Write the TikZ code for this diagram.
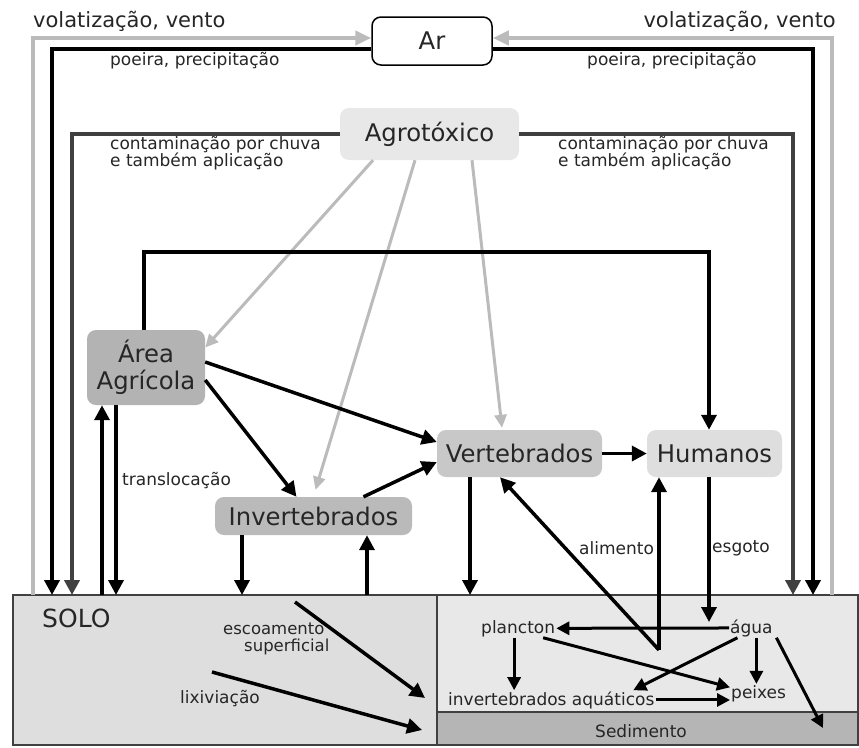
\documentclass[tikz,border=0pt]{standalone}
\usepackage{fontspec}
\setmainfont{DejaVu Sans}
\usetikzlibrary{arrows.meta}
\definecolor{lgray}{HTML}{BBBBBB}
\definecolor{dgray}{HTML}{404040}
\definecolor{txt}{HTML}{262626}
\definecolor{soilc}{HTML}{DEDEDE}
\definecolor{waterc}{HTML}{E8E8E8}
\definecolor{sedc}{HTML}{B5B5B5}
\definecolor{agroc}{HTML}{E8E8E8}
\definecolor{areac}{HTML}{B3B3B3}
\definecolor{invc}{HTML}{BABABA}
\definecolor{vertc}{HTML}{C8C8C8}
\definecolor{humc}{HTML}{DEDEDE}
\begin{document}
\begin{tikzpicture}[x=1pt,y=-1pt,
  box/.style={rounded corners=9pt, inner sep=0pt, text=txt, font=\fontsize{24.3}{27}\selectfont, align=center},
  lbl/.style={inner sep=0pt, anchor=base west, text=txt, font=\fontsize{17}{18}\selectfont},
  wtxt/.style={inner sep=1pt, anchor=base west, text=txt, font=\fontsize{17}{18}\selectfont},
  blk/.style={draw=black, line width=3.5pt, -{Triangle[length=15pt,width=15pt]}},
  warr/.style={draw=black, line width=3pt, -{Triangle[length=13pt,width=13pt]}},
  topblk/.style={draw=black, line width=4pt, -{Triangle[length=15pt,width=15pt]}},
  topgray/.style={draw=lgray, line width=4pt, -{Triangle[length=16pt,width=14pt]}},
  darkline/.style={draw=dgray, line width=4pt, -{Triangle[length=15pt,width=15pt]}},
  agroarr/.style={draw=lgray, line width=3pt, -{Triangle[length=13pt,width=12pt]}}
]
\useasboundingbox (0,0) rectangle (859,747);
\fill[white] (0,0) rectangle (859,747);

% compartments
\fill[soilc] (13,595) rectangle (437,745);
\fill[waterc] (437,595) rectangle (858,712);
\fill[sedc] (437,712) rectangle (858,745);
\draw[dgray, line width=1.5pt] (13,595) rectangle (858,745);
\draw[dgray, line width=1.5pt] (437,595) -- (437,745);
\draw[dgray, line width=1.5pt] (437,712) -- (858,712);

% main nodes
\node[box, fill=white, draw=black, line width=1.5pt, minimum width=120pt, minimum height=48pt] (ar) at (432,41) {Ar};
\node[box, fill=agroc, minimum width=179pt, minimum height=52pt] (agro) at (429.5,134) {Agrotóxico};
\node[box, fill=areac, minimum width=118pt, minimum height=75pt] (area) at (146,367.5) {Área\\Agrícola};
\node[box, fill=invc, minimum width=197pt, minimum height=38pt] (inv) at (313.5,516) {Invertebrados};
\node[box, fill=vertc, minimum width=165pt, minimum height=47pt] (vert) at (519.5,453.5) {Vertebrados};
\node[box, fill=humc, minimum width=135pt, minimum height=47pt] (hum) at (714.5,453.5) {Humanos};

% compartment texts
\node[lbl, font=\fontsize{25}{28}\selectfont] (solo) at (42,627) {SOLO};
\node[wtxt] (plancton) at (480,633) {plancton};
\node[wtxt] (agua) at (729,633) {água};
\node[wtxt] (invaq) at (447,705) {invertebrados aquáticos};
\node[wtxt] (peixes) at (730,698) {peixes};
\node[lbl] (sedim) at (595,737) {Sedimento};

% free ends
\coordinate (s1) at (33,595);
\coordinate (s2) at (52,595);
\coordinate (s3) at (72,595);
\coordinate (s4) at (102,595);
\coordinate (s5) at (116,595);
\coordinate (s6) at (242,595);
\coordinate (s7) at (367,595);
\coordinate (s8) at (470,595);
\coordinate (r3) at (793,595);
\coordinate (r2) at (813,595);
\coordinate (r1) at (832,595);
\coordinate (top2) at (709,252);
\coordinate (esc1) at (295,602);
\coordinate (esc2) at (425,698);
\coordinate (lix1) at (212,672);
\coordinate (lix2) at (422,730);
\coordinate (esg) at (709,622);
\coordinate (food) at (659,650);
\coordinate (sed) at (823,728);

% air loops
\draw[topgray] (s1) |- ([yshift=3pt]ar.west);
\draw[topgray] (r1) |- ([yshift=3pt]ar.east);
\draw[topblk] ([yshift=-8pt]ar.west) -| (s2);
\draw[topblk] ([yshift=-8pt]ar.east) -| (r2);
\draw[darkline] (agro.west) -| (s3);
\draw[darkline] (agro.east) -| (r3);

% pesticide arrows
\draw[agroarr] ([xshift=-56.5pt]agro.south) -- ([yshift=20pt]area.east);
\draw[agroarr] ([xshift=-14.5pt]agro.south) -- ([xshift=2pt,yshift=7pt]inv.north);
\draw[agroarr] ([xshift=42.5pt]agro.south) -- ([xshift=-17.5pt,yshift=2pt]vert.north);

% black arrows
\draw[blk] ([xshift=-2pt]area.north) |- (top2) -- ([xshift=-5.5pt]hum.north);
\draw[blk] (s4) -- ([xshift=-44pt]area.south);
\draw[blk] ([xshift=-30pt]area.south) -- (s5);
\draw[blk] ([xshift=-71.5pt]inv.south) -- (s6);
\draw[blk] (s7) -- ([xshift=53.5pt]inv.south);
\draw[blk] ([yshift=5.5pt]area.east) -- ([yshift=11.5pt]vert.west);
\draw[blk] ([yshift=-12.5pt]area.east) -- ([xshift=-17pt]inv.north);
\draw[blk] ([xshift=50pt]inv.north) -- ([yshift=-8.5pt]vert.west);
\draw[blk] (vert.east) -- (hum.west);
\draw[blk] ([xshift=-49.5pt]vert.south) -- (s8);
\draw[blk] ([xshift=-5.5pt]hum.south) -- (esg);
\draw[blk] (food) -- ([xshift=-19.5pt]vert.south);
\draw[blk] (food) -- (food |- hum.south);
\draw[blk] (esc1) -- (esc2);
\draw[blk] (lix1) -- (lix2);

% water arrows
\draw[warr] (agua.west) -- (plancton.east);
\coordinate (pb) at ([xshift=-4pt]plancton.south);
\draw[warr] (pb) -- (pb |- invaq.north);
\draw[warr] ([xshift=25pt]plancton.south) -- ([yshift=6pt]peixes.west);
\draw[warr] ([xshift=-14pt]agua.south) -- ([xshift=82pt]invaq.north);
\coordinate (pa) at ([xshift=5pt]agua.south);
\draw[warr] (pa) -- (pa |- peixes.north);
\draw[warr] (invaq.east) -- (invaq.east -| peixes.west);
\draw[warr] ([xshift=25pt]agua.south) -- (sed);

% labels
\node[lbl, font=\fontsize{21}{24}\selectfont] (volL) at (33,27) {volatização, vento};
\node[lbl, font=\fontsize{21}{24}\selectfont, anchor=base east] (volR) at (836,27) {volatização, vento};
\node[lbl] (poeL) at (110,65.5) {poeira, precipitação};
\node[lbl] (poeR) at (587,65.5) {poeira, precipitação};
\node[lbl] (conL1) at (110,149) {contaminação por chuva};
\node[lbl] (conL2) at (110,166) {e também aplicação};
\node[lbl] (conR1) at (558,149) {contaminação por chuva};
\node[lbl] (conR2) at (558,166) {e também aplicação};
\node[lbl] (transl) at (122,485) {translocação};
\node[lbl] (alim) at (579,554) {alimento};
\node[lbl] (esgoto) at (712,552) {esgoto};
\node[lbl, font=\fontsize{16.5}{18}\selectfont] (escoam) at (223,634) {escoamento};
\node[lbl, font=\fontsize{16.5}{18}\selectfont] (superf) at (244,651) {superficial};
\node[lbl] (lixiv) at (180,703) {lixiviação};
\end{tikzpicture}
\end{document}
